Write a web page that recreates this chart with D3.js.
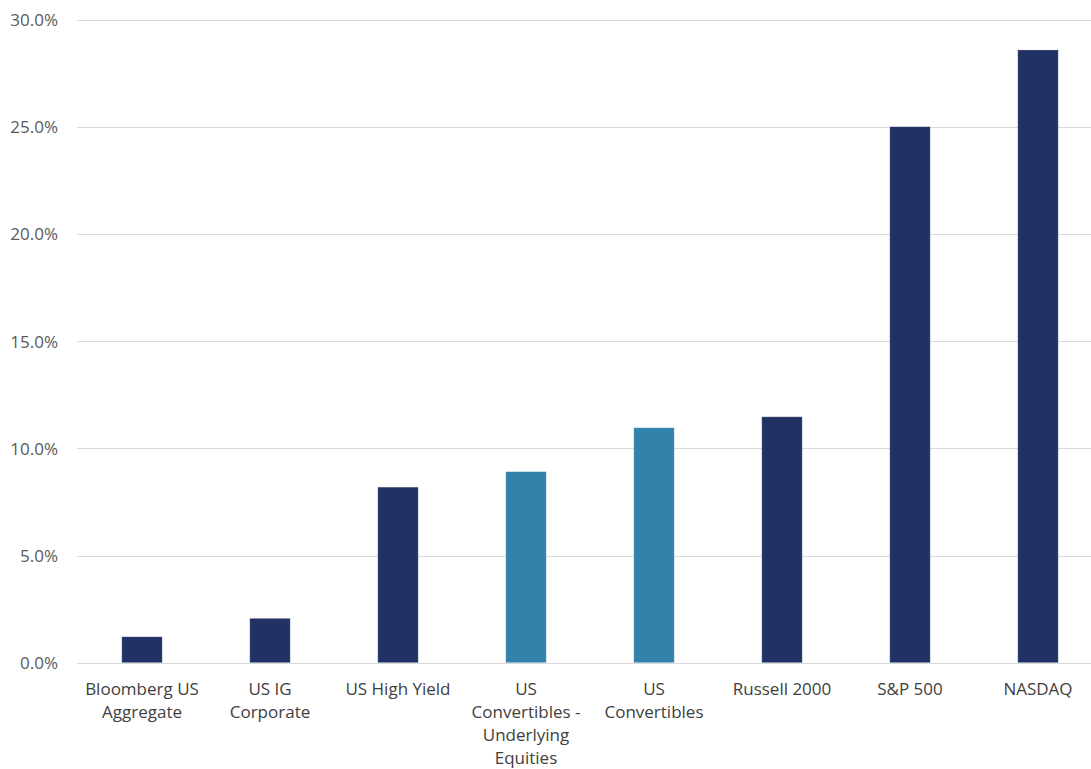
<!DOCTYPE html>
<html>
<head>
<meta charset="utf-8">
<script src="https://cdn.jsdelivr.net/npm/d3@7"></script>
<style>
  html, body { margin: 0; padding: 0; background: #ffffff; }
  svg { display: block; }
  text { font-family: "Open Sans", "Noto Sans", sans-serif; }
</style>
</head>
<body>
<svg id="chart" width="1091" height="769"></svg>
<script>
const categories = [
  ["Bloomberg US", "Aggregate"],
  ["US IG", "Corporate"],
  ["US High Yield"],
  ["US", "Convertibles -", "Underlying", "Equities"],
  ["US", "Convertibles"],
  ["Russell 2000"],
  ["S&P 500"],
  ["NASDAQ"]
];
const values = [1.21, 2.07, 8.19, 8.91, 10.96, 11.47, 25.0, 28.58];
const groups = ["index", "index", "index", "conv", "conv", "index", "index", "index"];
const yTicks = [0, 5, 10, 15, 20, 25, 30];

const colors = { index: "#223163", conv: "#3282AC" };

const svg = d3.select("#chart");
const W = 1091;

const x = d3.scaleBand()
  .domain(d3.range(categories.length))
  .range([78, 1102])
  .paddingInner(0.684)
  .paddingOuter(0.342);

const y = d3.scaleLinear().domain([0, 30]).range([662.7, 19.5]);

// gridlines
svg.append("g")
  .selectAll("line")
  .data(yTicks)
  .join("line")
  .attr("x1", 77)
  .attr("x2", W)
  .attr("y1", d => Math.round(y(d)) + 0.5)
  .attr("y2", d => Math.round(y(d)) + 0.5)
  .attr("stroke", "#d9d9d9")
  .attr("stroke-width", 1);

// y axis labels
const yAxis = d3.axisLeft(y).tickValues(yTicks).tickFormat(d => d.toFixed(1) + "%").tickSize(0).tickPadding(0);
const ya = svg.append("g").attr("transform", "translate(58,0)").call(yAxis);
ya.select(".domain").remove();
ya.selectAll("text")
  .attr("fill", "#595959")
  .style("font-size", "17px")
  .attr("dy", "0.35em");

// bars
svg.append("g")
  .selectAll("rect")
  .data(values)
  .join("rect")
  .attr("x", (d, i) => x(i))
  .attr("width", x.bandwidth())
  .attr("y", d => y(d))
  .attr("height", d => y(0) - y(d))
  .attr("fill", (d, i) => colors[groups[i]])
  .attr("stroke", "#ffffff")
  .attr("stroke-opacity", 0.35)
  .attr("stroke-width", 0.75);

// x labels
const baseY = 694.5, lineH = 23;
const xl = svg.append("g")
  .selectAll("text")
  .data(categories)
  .join("text")
  .attr("x", (d, i) => x(i) + x.bandwidth() / 2)
  .attr("y", baseY)
  .attr("text-anchor", "middle")
  .attr("fill", "#404040")
  .style("font-size", "17px");
xl.each(function(lines) {
  const t = d3.select(this);
  lines.forEach((ln, j) => {
    t.append("tspan")
      .attr("x", t.attr("x"))
      .attr("y", baseY + j * lineH)
      .text(ln);
  });
});
</script>
</body>
</html>
